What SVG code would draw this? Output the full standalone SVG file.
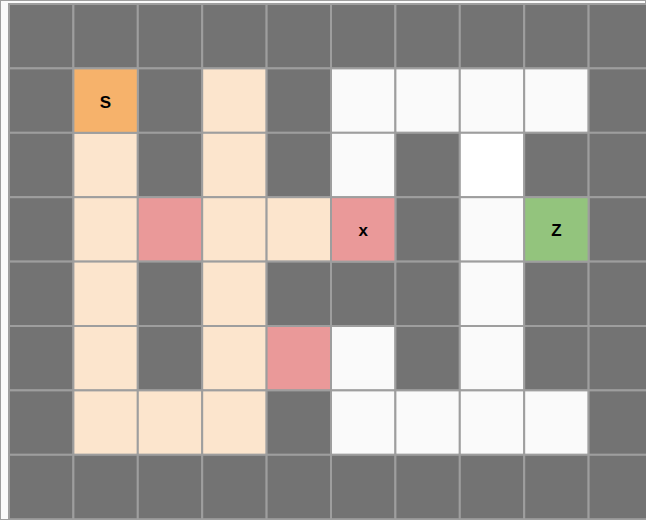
<svg xmlns="http://www.w3.org/2000/svg" width="646" height="520" viewBox="0 0 646 520">
<style>
rect{stroke:#9e9e9e;stroke-width:2}
.d{fill:#737373}
.w{fill:#fafafa}
.ww{fill:#ffffff}
.p{fill:#fce5cd}
.r{fill:#ea9999}
.o{fill:#f6b26b}
.g{fill:#93c47d}
text{font-family:"Liberation Sans",Arial,sans-serif;font-weight:bold;font-size:17px;text-anchor:middle;dominant-baseline:central;fill:#000}
</style>
<rect x="0" y="0" width="646" height="520" fill="#fafafa" stroke="none"/>
<g id="row0">
<rect class="d" x="9" y="4" width="64.4" height="64.4"/><rect class="d" x="73.4" y="4" width="64.4" height="64.4"/><rect class="d" x="137.8" y="4" width="64.4" height="64.4"/><rect class="d" x="202.2" y="4" width="64.4" height="64.4"/><rect class="d" x="266.6" y="4" width="64.4" height="64.4"/><rect class="d" x="331" y="4" width="64.4" height="64.4"/><rect class="d" x="395.4" y="4" width="64.4" height="64.4"/><rect class="d" x="459.8" y="4" width="64.4" height="64.4"/><rect class="d" x="524.2" y="4" width="64.4" height="64.4"/><rect class="d" x="588.6" y="4" width="64.4" height="64.4"/>
</g>
<g id="row1">
<rect class="d" x="9" y="68.4" width="64.4" height="64.4"/><rect class="d" x="137.8" y="68.4" width="64.4" height="64.4"/><rect class="p" x="202.2" y="68.4" width="64.4" height="64.4"/><rect class="d" x="266.6" y="68.4" width="64.4" height="64.4"/><rect class="w" x="331" y="68.4" width="64.4" height="64.4"/><rect class="w" x="395.4" y="68.4" width="64.4" height="64.4"/><rect class="w" x="459.8" y="68.4" width="64.4" height="64.4"/><rect class="w" x="524.2" y="68.4" width="64.4" height="64.4"/><rect class="d" x="588.6" y="68.4" width="64.4" height="64.4"/>
</g>
<g id="row2">
<rect class="d" x="9" y="132.8" width="64.4" height="64.4"/><rect class="p" x="73.4" y="132.8" width="64.4" height="64.4"/><rect class="d" x="137.8" y="132.8" width="64.4" height="64.4"/><rect class="p" x="202.2" y="132.8" width="64.4" height="64.4"/><rect class="d" x="266.6" y="132.8" width="64.4" height="64.4"/><rect class="w" x="331" y="132.8" width="64.4" height="64.4"/><rect class="d" x="395.4" y="132.8" width="64.4" height="64.4"/><rect class="ww" x="459.8" y="132.8" width="64.4" height="64.4"/><rect class="d" x="524.2" y="132.8" width="64.4" height="64.4"/><rect class="d" x="588.6" y="132.8" width="64.4" height="64.4"/>
</g>
<g id="row3">
<rect class="d" x="9" y="197.2" width="64.4" height="64.4"/><rect class="p" x="73.4" y="197.2" width="64.4" height="64.4"/><rect class="r" x="137.8" y="197.2" width="64.4" height="64.4"/><rect class="p" x="202.2" y="197.2" width="64.4" height="64.4"/><rect class="p" x="266.6" y="197.2" width="64.4" height="64.4"/><rect class="d" x="395.4" y="197.2" width="64.4" height="64.4"/><rect class="w" x="459.8" y="197.2" width="64.4" height="64.4"/><rect class="d" x="588.6" y="197.2" width="64.4" height="64.4"/>
</g>
<g id="row4">
<rect class="d" x="9" y="261.6" width="64.4" height="64.4"/><rect class="p" x="73.4" y="261.6" width="64.4" height="64.4"/><rect class="d" x="137.8" y="261.6" width="64.4" height="64.4"/><rect class="p" x="202.2" y="261.6" width="64.4" height="64.4"/><rect class="d" x="266.6" y="261.6" width="64.4" height="64.4"/><rect class="d" x="331" y="261.6" width="64.4" height="64.4"/><rect class="d" x="395.4" y="261.6" width="64.4" height="64.4"/><rect class="w" x="459.8" y="261.6" width="64.4" height="64.4"/><rect class="d" x="524.2" y="261.6" width="64.4" height="64.4"/><rect class="d" x="588.6" y="261.6" width="64.4" height="64.4"/>
</g>
<g id="row5">
<rect class="d" x="9" y="326" width="64.4" height="64.4"/><rect class="p" x="73.4" y="326" width="64.4" height="64.4"/><rect class="d" x="137.8" y="326" width="64.4" height="64.4"/><rect class="p" x="202.2" y="326" width="64.4" height="64.4"/><rect class="r" x="266.6" y="326" width="64.4" height="64.4"/><rect class="w" x="331" y="326" width="64.4" height="64.4"/><rect class="d" x="395.4" y="326" width="64.4" height="64.4"/><rect class="w" x="459.8" y="326" width="64.4" height="64.4"/><rect class="d" x="524.2" y="326" width="64.4" height="64.4"/><rect class="d" x="588.6" y="326" width="64.4" height="64.4"/>
</g>
<g id="row6">
<rect class="d" x="9" y="390.4" width="64.4" height="64.4"/><rect class="p" x="73.4" y="390.4" width="64.4" height="64.4"/><rect class="p" x="137.8" y="390.4" width="64.4" height="64.4"/><rect class="p" x="202.2" y="390.4" width="64.4" height="64.4"/><rect class="d" x="266.6" y="390.4" width="64.4" height="64.4"/><rect class="w" x="331" y="390.4" width="64.4" height="64.4"/><rect class="w" x="395.4" y="390.4" width="64.4" height="64.4"/><rect class="w" x="459.8" y="390.4" width="64.4" height="64.4"/><rect class="w" x="524.2" y="390.4" width="64.4" height="64.4"/><rect class="d" x="588.6" y="390.4" width="64.4" height="64.4"/>
</g>
<g id="row7">
<rect class="d" x="9" y="454.8" width="64.4" height="64.4"/><rect class="d" x="73.4" y="454.8" width="64.4" height="64.4"/><rect class="d" x="137.8" y="454.8" width="64.4" height="64.4"/><rect class="d" x="202.2" y="454.8" width="64.4" height="64.4"/><rect class="d" x="266.6" y="454.8" width="64.4" height="64.4"/><rect class="d" x="331" y="454.8" width="64.4" height="64.4"/><rect class="d" x="395.4" y="454.8" width="64.4" height="64.4"/><rect class="d" x="459.8" y="454.8" width="64.4" height="64.4"/><rect class="d" x="524.2" y="454.8" width="64.4" height="64.4"/><rect class="d" x="588.6" y="454.8" width="64.4" height="64.4"/>
</g>
<g id="S"><rect class="o" x="73.4" y="68.4" width="64.4" height="64.4"/><text x="105.4" y="102">S</text></g>
<g id="x"><rect class="r" x="331" y="197.2" width="64.4" height="64.4"/><text x="363.2" y="230.6">x</text></g>
<g id="Z"><rect class="g" x="524.2" y="197.2" width="64.4" height="64.4"/><text x="556.4" y="230.6">Z</text></g>
<g id="connectors"></g>
</svg>
